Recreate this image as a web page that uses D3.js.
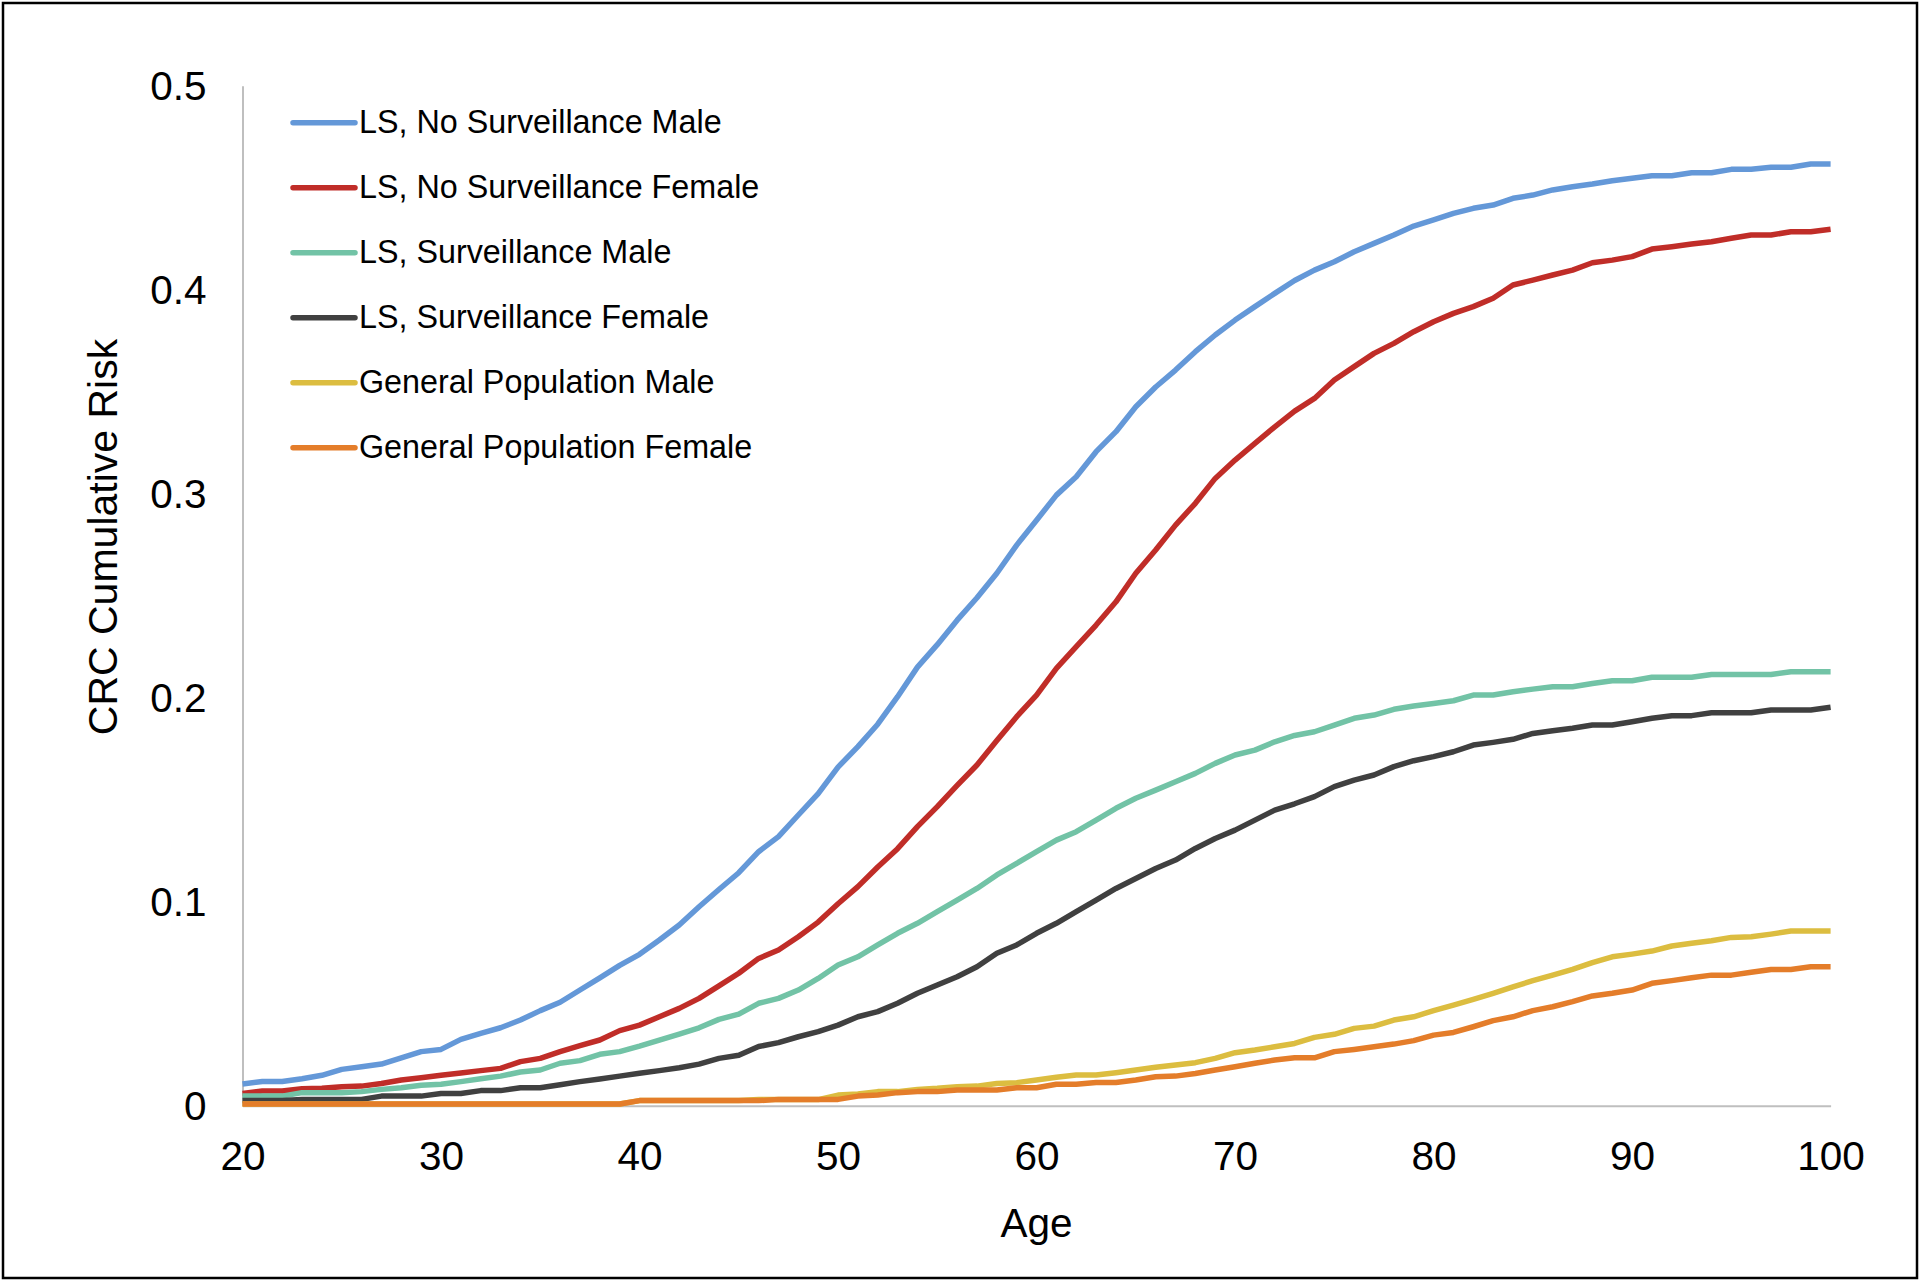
<!DOCTYPE html>
<html>
<head>
<meta charset="utf-8">
<script src="https://cdn.jsdelivr.net/npm/d3@7"></script>
<style>
  html, body { margin: 0; padding: 0; background: #fff; }
  svg { display: block; }
  text { font-family: "Liberation Sans", Arial, sans-serif; fill: #000; }
</style>
</head>
<body>
<svg id="chart" width="1920" height="1283"></svg>
<script>
// ---------------- DATA ----------------
const ages = d3.range(20, 101);

const seriesNames = [
  "LS, No Surveillance Male",
  "LS, No Surveillance Female",
  "LS, Surveillance Male",
  "LS, Surveillance Female",
  "General Population Male",
  "General Population Female"
];

const lsNoSurvMale = [
  0.0106, 0.0119, 0.0119, 0.0132, 0.0149, 0.0178, 0.0191, 0.0204, 0.0235, 0.0265,
  0.0276, 0.0325, 0.0355, 0.0382, 0.0420, 0.0466, 0.0507, 0.0567, 0.0627, 0.0688,
  0.0742, 0.0812, 0.0886, 0.0975, 0.1060, 0.1142, 0.1245, 0.1319, 0.1425, 0.1530,
  0.1660, 0.1760, 0.1870, 0.2005, 0.2150, 0.2260, 0.2380, 0.2490, 0.2610, 0.2748,
  0.2870, 0.2993, 0.3083, 0.3206, 0.3304, 0.3426, 0.3523, 0.3606, 0.3696, 0.3778,
  0.3851, 0.3917, 0.3982, 0.4045, 0.4096, 0.4137, 0.4186, 0.4227, 0.4268, 0.4312,
  0.4342, 0.4374, 0.4399, 0.4415, 0.4448, 0.4464, 0.4489, 0.4505, 0.4518, 0.4534,
  0.4546, 0.4559, 0.4559, 0.4573, 0.4573, 0.4590, 0.4590, 0.4600, 0.4600, 0.4616,
  0.4616
];

const lsNoSurvFemale = [
  0.0060, 0.0072, 0.0072, 0.0083, 0.0085, 0.0093, 0.0096, 0.0109, 0.0126, 0.0137,
  0.0149, 0.0160, 0.0172, 0.0183, 0.0216, 0.0232, 0.0265, 0.0294, 0.0322, 0.0368,
  0.0395, 0.0436, 0.0477, 0.0526, 0.0587, 0.0649, 0.0722, 0.0763, 0.0828, 0.0900,
  0.0990, 0.1074, 0.1170, 0.1260, 0.1368, 0.1466, 0.1570, 0.1670, 0.1790, 0.1907,
  0.2013, 0.2144, 0.2250, 0.2356, 0.2470, 0.2610, 0.2724, 0.2846, 0.2953, 0.3075,
  0.3165, 0.3247, 0.3328, 0.3405, 0.3467, 0.3557, 0.3623, 0.3688, 0.3737, 0.3794,
  0.3843, 0.3884, 0.3917, 0.3958, 0.4023, 0.4047, 0.4072, 0.4096, 0.4132, 0.4145,
  0.4162, 0.4199, 0.4211, 0.4224, 0.4235, 0.4252, 0.4268, 0.4268, 0.4284, 0.4284,
  0.4296
];

const lsSurvMale = [
  0.0047, 0.0047, 0.0047, 0.0064, 0.0064, 0.0064, 0.0069, 0.0080, 0.0088, 0.0100,
  0.0105, 0.0118, 0.0132, 0.0145, 0.0165, 0.0175, 0.0208, 0.0221, 0.0252, 0.0265,
  0.0292, 0.0322, 0.0351, 0.0382, 0.0423, 0.0449, 0.0502, 0.0526, 0.0567, 0.0624,
  0.0690, 0.0730, 0.0788, 0.0845, 0.0894, 0.0951, 0.1008, 0.1065, 0.1131, 0.1188,
  0.1245, 0.1302, 0.1343, 0.1400, 0.1458, 0.1507, 0.1547, 0.1588, 0.1629, 0.1678,
  0.1719, 0.1743, 0.1784, 0.1815, 0.1833, 0.1866, 0.1899, 0.1915, 0.1943, 0.1959,
  0.1972, 0.1985, 0.2013, 0.2013, 0.2029, 0.2042, 0.2054, 0.2054, 0.2070, 0.2083,
  0.2083, 0.2100, 0.2100, 0.2100, 0.2114, 0.2114, 0.2114, 0.2114, 0.2127, 0.2127,
  0.2127
];

const lsSurvFemale = [
  0.0025, 0.0025, 0.0025, 0.0031, 0.0031, 0.0031, 0.0031, 0.0047, 0.0047, 0.0047,
  0.0060, 0.0060, 0.0074, 0.0074, 0.0088, 0.0088, 0.0103, 0.0118, 0.0131, 0.0145,
  0.0159, 0.0172, 0.0186, 0.0204, 0.0232, 0.0247, 0.0290, 0.0309, 0.0338, 0.0363,
  0.0395, 0.0436, 0.0461, 0.0502, 0.0551, 0.0592, 0.0632, 0.0681, 0.0747, 0.0788,
  0.0845, 0.0894, 0.0951, 0.1008, 0.1065, 0.1114, 0.1163, 0.1204, 0.1261, 0.1310,
  0.1351, 0.1400, 0.1449, 0.1480, 0.1515, 0.1564, 0.1596, 0.1621, 0.1662, 0.1691,
  0.1711, 0.1735, 0.1768, 0.1781, 0.1796, 0.1825, 0.1838, 0.1850, 0.1866, 0.1866,
  0.1882, 0.1899, 0.1912, 0.1912, 0.1926, 0.1926, 0.1926, 0.1940, 0.1940, 0.1940,
  0.1953
];

const genPopMale = [
  0.0008, 0.0008, 0.0008, 0.0008, 0.0008, 0.0008, 0.0008, 0.0008, 0.0008, 0.0008,
  0.0008, 0.0008, 0.0008, 0.0008, 0.0008, 0.0008, 0.0008, 0.0008, 0.0008, 0.0008,
  0.0025, 0.0025, 0.0025, 0.0025, 0.0025, 0.0025, 0.0030, 0.0030, 0.0030, 0.0030,
  0.0052, 0.0057, 0.0069, 0.0069, 0.0080, 0.0085, 0.0093, 0.0096, 0.0109, 0.0113,
  0.0126, 0.0139, 0.0150, 0.0150, 0.0162, 0.0175, 0.0188, 0.0199, 0.0211, 0.0232,
  0.0260, 0.0273, 0.0289, 0.0305, 0.0335, 0.0350, 0.0379, 0.0390, 0.0420, 0.0436,
  0.0466, 0.0493, 0.0521, 0.0551, 0.0583, 0.0613, 0.0640, 0.0668, 0.0701, 0.0730,
  0.0743, 0.0758, 0.0783, 0.0796, 0.0809, 0.0825, 0.0828, 0.0841, 0.0856, 0.0856,
  0.0856
];

const genPopFemale = [
  0.0008, 0.0008, 0.0008, 0.0008, 0.0008, 0.0008, 0.0008, 0.0008, 0.0008, 0.0008,
  0.0008, 0.0008, 0.0008, 0.0008, 0.0008, 0.0008, 0.0008, 0.0008, 0.0008, 0.0008,
  0.0025, 0.0025, 0.0025, 0.0025, 0.0025, 0.0025, 0.0025, 0.0031, 0.0031, 0.0031,
  0.0031, 0.0047, 0.0052, 0.0064, 0.0069, 0.0069, 0.0077, 0.0077, 0.0077, 0.0088,
  0.0088, 0.0105, 0.0105, 0.0114, 0.0114, 0.0126, 0.0142, 0.0145, 0.0158, 0.0175,
  0.0191, 0.0208, 0.0224, 0.0235, 0.0235, 0.0265, 0.0276, 0.0289, 0.0302, 0.0319,
  0.0346, 0.0359, 0.0387, 0.0417, 0.0436, 0.0466, 0.0485, 0.0510, 0.0538, 0.0551,
  0.0567, 0.0600, 0.0613, 0.0627, 0.0640, 0.0640, 0.0654, 0.0668, 0.0668, 0.0681,
  0.0681
];

const seriesValues = [lsNoSurvMale, lsNoSurvFemale, lsSurvMale, lsSurvFemale, genPopMale, genPopFemale];
const seriesColors = ["#6498d8", "#c02d28", "#72c3a6", "#404040", "#dcbd40", "#e47d2a"];

const xTicks = [20, 30, 40, 50, 60, 70, 80, 90, 100];
const yTicks = [0, 0.1, 0.2, 0.3, 0.4, 0.5];
const xTitle = "Age";
const yTitle = "CRC Cumulative Risk";

// ---------------- LAYOUT ----------------
const svg = d3.select("#chart");
const plot = { left: 242.5, right: 1830.6, top: 85.7, bottom: 1105.7 };

const x = d3.scaleLinear().domain([20, 100]).range([plot.left, plot.right]);
const y = d3.scaleLinear().domain([0, 0.5]).range([plot.bottom, plot.top]);

// outer frame
svg.append("rect")
  .attr("x", 3).attr("y", 3).attr("width", 1914).attr("height", 1275)
  .attr("fill", "#fff").attr("stroke", "#000").attr("stroke-width", 2.5);

// axes (d3 axes, no tick marks)
const xAxis = d3.axisBottom(x).tickValues(xTicks).tickSize(0).tickPadding(0).tickFormat(d3.format("d"));
const gx = svg.append("g").attr("transform", `translate(0,${plot.bottom})`).call(xAxis);
gx.select(".domain").attr("stroke", "#bfbfbf").attr("stroke-width", 2);
gx.selectAll("text").attr("font-size", 40.5).attr("dy", null).attr("y", 64)
  .style("font-family", '"Liberation Sans", Arial, sans-serif').attr("fill", "#000");

const yAxis = d3.axisLeft(y).tickValues(yTicks).tickSize(0).tickFormat(d => d === 0 ? "0" : d3.format(".1f")(d));
const gy = svg.append("g").attr("transform", `translate(${plot.left},0)`).call(yAxis);
gy.select(".domain").attr("stroke", "#bfbfbf").attr("stroke-width", 2);
gy.selectAll("text").attr("font-size", 40.5).attr("x", -36).attr("dy", "0.33em")
  .style("font-family", '"Liberation Sans", Arial, sans-serif').attr("fill", "#000");

// axis titles
svg.append("text")
  .attr("x", (plot.left + plot.right) / 2).attr("y", 1237)
  .attr("text-anchor", "middle").attr("font-size", 40.5)
  .text(xTitle);

svg.append("text")
  .attr("transform", "translate(117,537) rotate(-90)")
  .attr("text-anchor", "middle").attr("font-size", 41)
  .text(yTitle);

// lines
const line = d3.line()
  .x((d, i) => x(ages[i]))
  .y(d => y(d));

seriesValues.forEach((vals, k) => {
  svg.append("path")
    .datum(vals)
    .attr("d", line)
    .attr("fill", "none")
    .attr("stroke", seriesColors[k])
    .attr("stroke-width", 5.5)
    .attr("stroke-linejoin", "round")
    .attr("stroke-linecap", "butt");
});

// legend
const legend = svg.append("g");
seriesNames.forEach((name, k) => {
  const ly = 122.7 + k * 65;
  legend.append("line")
    .attr("x1", 293).attr("x2", 355)
    .attr("y1", ly).attr("y2", ly)
    .attr("stroke", seriesColors[k]).attr("stroke-width", 5.5)
    .attr("stroke-linecap", "round");
  legend.append("text")
    .attr("x", 359).attr("y", ly + 10.5)
    .attr("font-size", 32.3)
    .text(name);
});
</script>
</body>
</html>
